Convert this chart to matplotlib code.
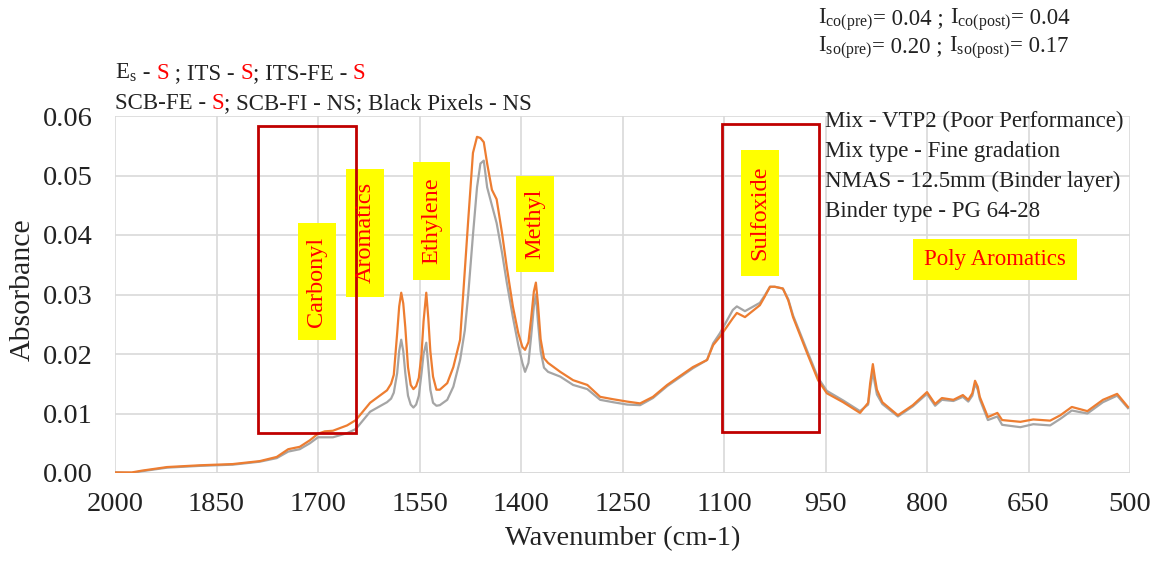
import matplotlib
matplotlib.use("Agg")
import matplotlib.pyplot as plt
from matplotlib.patches import Rectangle
from matplotlib.font_manager import FontProperties

plt.rcParams['font.family'] = ['Liberation Serif', 'DejaVu Serif']
plt.rcParams['mathtext.fontset'] = 'custom'
plt.rcParams['mathtext.rm'] = 'Liberation Serif'
plt.rcParams['mathtext.it'] = 'Liberation Serif:italic'

# ---------------- data ----------------
wavenumber = [2000, 1975, 1960, 1923, 1874, 1826, 1786, 1761, 1744, 1727, 1712, 1700,
              1690, 1678, 1657, 1644, 1623, 1598, 1592, 1588, 1583, 1580, 1577, 1574,
              1571, 1567, 1563, 1559, 1555, 1551, 1547, 1544, 1540, 1537, 1534, 1530,
              1525, 1520, 1509, 1500, 1490, 1483, 1478, 1471, 1465, 1460, 1455, 1450,
              1443, 1436, 1428, 1421, 1412, 1404, 1398, 1394, 1389, 1385, 1381, 1378,
              1375, 1371, 1366, 1360, 1342, 1323, 1302, 1283, 1264, 1243, 1224, 1205,
              1184, 1165, 1146, 1125, 1116, 1106, 1087, 1081, 1069, 1047, 1040, 1032,
              1025, 1013, 1005, 998, 977, 961, 948, 924, 899, 887, 884, 880, 877, 874,
              866, 843, 821, 800, 788, 778, 761, 747, 739, 733, 729, 725, 722, 710,
              696, 689, 662, 643, 618, 603, 586, 563, 540, 519, 503]

absorb_post = [0.0001, 0.0001, 0.0004, 0.0010, 0.0013, 0.0015, 0.0020, 0.0027, 0.0040, 0.0044,
               0.0055, 0.0066, 0.0070, 0.0071, 0.0080, 0.0089, 0.0118, 0.0139, 0.0150, 0.0165,
               0.0235, 0.0280, 0.0303, 0.0285, 0.0245, 0.0178, 0.0148, 0.0141, 0.0146, 0.0160,
               0.0200, 0.0255, 0.0303, 0.0260, 0.0205, 0.0162, 0.0140, 0.0140, 0.0151, 0.0178,
               0.0224, 0.0341, 0.0425, 0.0538, 0.0565, 0.0563, 0.0556, 0.0520, 0.0476, 0.0460,
               0.0403, 0.0346, 0.0280, 0.0235, 0.0212, 0.0207, 0.0220, 0.0260, 0.0305, 0.0320,
               0.0285, 0.0225, 0.0193, 0.0185, 0.0170, 0.0156, 0.0148, 0.0128, 0.0124, 0.0120,
               0.0117, 0.0128, 0.0148, 0.0163, 0.0178, 0.0190, 0.0215, 0.0229, 0.0260, 0.0269,
               0.0262, 0.0282, 0.0296, 0.0313, 0.0313, 0.0310, 0.0290, 0.0262, 0.0201, 0.0156,
               0.0134, 0.0119, 0.0101, 0.0118, 0.0151, 0.0183, 0.0160, 0.0140, 0.0119, 0.0097,
               0.0114, 0.0136, 0.0116, 0.0126, 0.0123, 0.0131, 0.0123, 0.0134, 0.0155, 0.0145,
               0.0128, 0.0094, 0.0101, 0.0089, 0.0086, 0.0090, 0.0088, 0.0097, 0.0111, 0.0104,
               0.0123, 0.0133, 0.0111]

absorb_pre = [0.0001, 0.0000, 0.0003, 0.0009, 0.0012, 0.0014, 0.0019, 0.0025, 0.0036, 0.0040,
              0.0050, 0.0060, 0.0060, 0.0060, 0.0067, 0.0074, 0.0103, 0.0119, 0.0125, 0.0135,
              0.0168, 0.0205, 0.0224, 0.0205, 0.0168, 0.0130, 0.0115, 0.0110, 0.0115, 0.0130,
              0.0168, 0.0200, 0.0219, 0.0180, 0.0140, 0.0118, 0.0113, 0.0114, 0.0123, 0.0145,
              0.0190, 0.0240, 0.0300, 0.0400, 0.0480, 0.0520, 0.0525, 0.0480, 0.0450, 0.0420,
              0.0370, 0.0320, 0.0262, 0.0215, 0.0185, 0.0170, 0.0185, 0.0230, 0.0280, 0.0300,
              0.0255, 0.0205, 0.0177, 0.0170, 0.0162, 0.0148, 0.0141, 0.0123, 0.0119, 0.0115,
              0.0114, 0.0126, 0.0146, 0.0161, 0.0176, 0.0190, 0.0218, 0.0235, 0.0274, 0.0280,
              0.0272, 0.0286, 0.0298, 0.0313, 0.0313, 0.0310, 0.0292, 0.0265, 0.0205, 0.0160,
              0.0138, 0.0122, 0.0104, 0.0115, 0.0142, 0.0170, 0.0150, 0.0132, 0.0116, 0.0095,
              0.0112, 0.0133, 0.0113, 0.0123, 0.0121, 0.0128, 0.0120, 0.0130, 0.0150, 0.0140,
              0.0124, 0.0089, 0.0095, 0.0081, 0.0077, 0.0082, 0.0080, 0.0091, 0.0105, 0.0100,
              0.0119, 0.0130, 0.0109]

x_ticks = [2000, 1850, 1700, 1550, 1400, 1250, 1100, 950, 800, 650, 500]
y_ticks = [0.00, 0.01, 0.02, 0.03, 0.04, 0.05, 0.06]

# ---------------- figure ----------------
W, H = 1156, 568
fig = plt.figure(figsize=(W / 100, H / 100), dpi=100)
ax = fig.add_axes([115 / W, 1 - 473 / H, (1130 - 115) / W, (473 - 116) / H])

ax.plot(wavenumber, absorb_pre, color='#A5A5A5', lw=1.6, zorder=3)
ax.plot(wavenumber, absorb_post, color='#ED7D31', lw=1.6, zorder=4)

ax.set_xlim(2000, 500)
ax.set_ylim(0, 0.06)
ax.set_xticks(x_ticks)
ax.set_xticklabels([str(v) for v in x_ticks])
ax.set_yticks(y_ticks)
ax.set_yticklabels([f"{v:.2f}" for v in y_ticks])
ax.tick_params(axis='both', length=0, labelsize=20.5, colors='#222222')
ax.tick_params(axis='x', pad=14)
ax.tick_params(axis='y', pad=16)
ax.grid(True, color='#D9D9D9', lw=1.2, zorder=0)
for s in ax.spines.values():
    s.set_visible(False)
ax.axhline(0, color='#D9D9D9', lw=1.2, zorder=1)

ax.set_xlabel('Wavenumber (cm-1)', fontsize=20.5, color='#222222', labelpad=6)
fig.text(23 / W, 1 - 290 / H, 'Absorbance', rotation=90, fontsize=21.5,
         color='#222222', ha='center', va='center')

# red highlight boxes
for (x0, x1, y0, y1) in [(1788.7, 1643.8, 0.0067, 0.0583), (1103.0, 959.6, 0.0069, 0.0587)]:
    ax.add_patch(Rectangle((x1, y0), x0 - x1, y1 - y0, fill=False,
                           edgecolor='#C00000', lw=2.0, zorder=6))

# yellow labels
labels = [
    ('Carbonyl', 1729.6, 1673.4, 0.0223, 0.0420, 90),
    ('Aromatics', 1658.6, 1602.5, 0.0296, 0.0511, 90),
    ('Ethylene', 1559.6, 1504.9, 0.0324, 0.0523, 90),
    ('Methyl', 1407.4, 1351.2, 0.0338, 0.0499, 90),
    ('Sulfoxide', 1074.9, 1018.7, 0.0331, 0.0543, 90),
    ('Poly Aromatics', 820.7, 578.4, 0.0324, 0.0393, 0),
]
for txt, xa, xb, ya, yb, rot in labels:
    ax.add_patch(Rectangle((xb, ya), xa - xb, yb - ya, facecolor='#FFFF00',
                           edgecolor='none', zorder=5))
    ax.text((xa + xb) / 2, (ya + yb) / 2, txt, rotation=rot, color='#FF0000',
            fontsize=17.5 if rot else 16.5, ha='center', va='center',
            rotation_mode='anchor', zorder=7)

# right info block
info = ['Mix - VTP2 (Poor Performance)', 'Mix type - Fine gradation',
        'NMAS - 12.5mm (Binder layer)', 'Binder type - PG 64-28']
for i, line in enumerate(info):
    fig.text(825 / W, 1 - (121 + 30.3 * i) / H, line, fontsize=16.5,
             color='#222222', ha='left', va='center')

# rich text helper
renderer = fig.canvas.get_renderer()
def rich(x_px, y_px, parts, size):
    prop = FontProperties(family=['Liberation Serif'], size=size)
    bar_w = renderer.get_text_width_height_descent('||', prop, ismath=False)[0]
    cx = x_px
    for s, col in parts:
        ismath = s.startswith('$')
        fig.text(cx / W, 1 - y_px / H, s, color=col, fontsize=size,
                 ha='left', va='baseline')
        if ismath:
            t = fig.text(0, 0, s, fontsize=size)
            w = t.get_window_extent(renderer).width
            t.remove()
        else:
            w = renderer.get_text_width_height_descent('|' + s + '|', prop, ismath=False)[0] - bar_w
        cx += w

K = '#222222'
R = '#FF0000'
rich(115, 79, [(r'$\mathregular{E_s}$', K), (' - ', K), ('S', R), (' ; ITS - ', K),
               ('S', R), ('; ITS-FE - ', K), ('S', R)], 16.5)
rich(115, 109, [('SCB-FE - ', K), ('S', R), ('; SCB-FI - NS; Black Pixels - NS', K)], 16.5)
rich(818, 24, [(r'$\mathregular{I_{co(pre)}}$', K), ('= 0.04 ; ', K),
               (r'$\mathregular{I_{co(post)}}$', K), ('= 0.04', K)], 16.5)
rich(818, 52, [(r'$\mathregular{I_{so(pre)}}$', K), ('= 0.20 ; ', K),
               (r'$\mathregular{I_{so(post)}}$', K), ('= 0.17', K)], 16.5)

fig.savefig('out.png', dpi=100)
